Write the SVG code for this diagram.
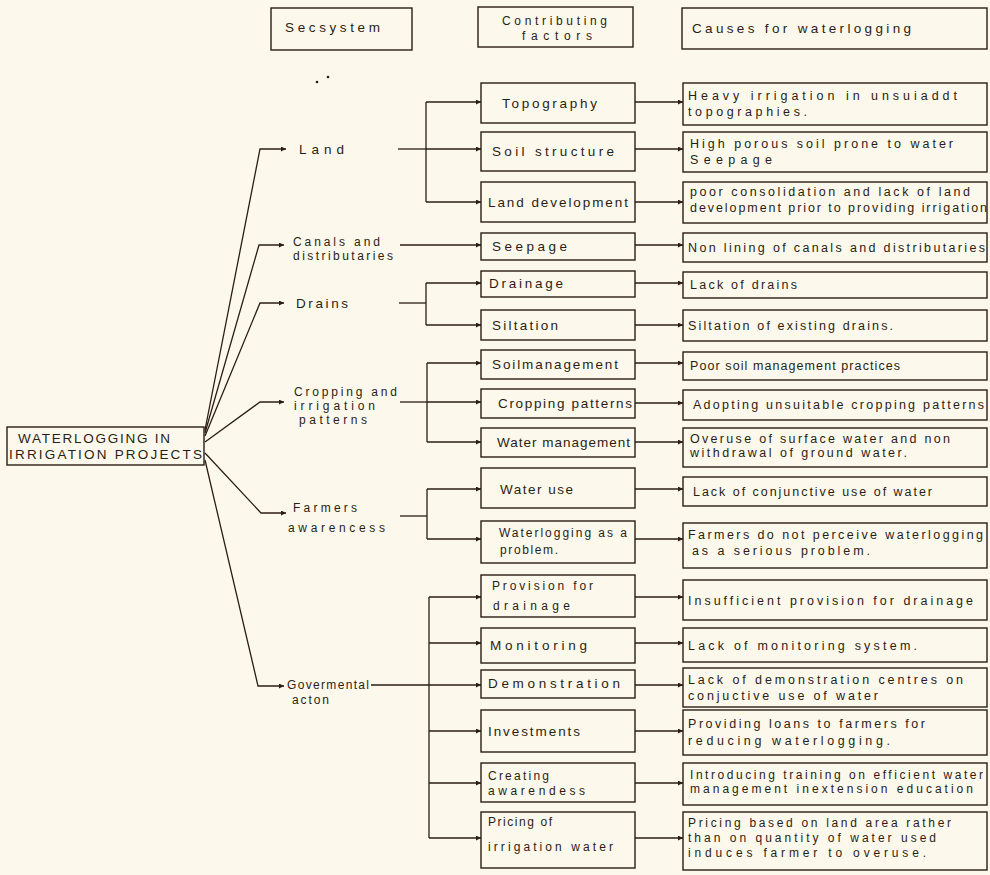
<svg xmlns="http://www.w3.org/2000/svg" width="990" height="875" viewBox="0 0 990 875">
<defs>
<marker id="ah" viewBox="0 0 10 10" refX="10" refY="5" markerWidth="8" markerHeight="5" markerUnits="userSpaceOnUse" orient="auto"><path d="M0,0 L10,5 L0,10 z" fill="#2b1d14"/></marker>
<style>
.bx{fill:none;stroke:#2b1d14;stroke-width:1.4}
.ln{fill:none;stroke:#2b1d14;stroke-width:1.3}
.ar{fill:none;stroke:#2b1d14;stroke-width:1.3;marker-end:url(#ah)}
text{font-family:"Liberation Sans",Arial,sans-serif;font-size:13.5px;fill:#2b1d14}
.rt{font-size:12.5px}
.sm{font-size:12px}
</style>
</defs>
<rect width="990" height="875" fill="#fcf9ec"/>

<g id="headers">
<g id="h-secsystem"><rect class="bx" x="271" y="8" width="141" height="42"/><text x="285" y="32" textLength="95" lengthAdjust="spacing">Secsystem</text></g>
<g id="h-factors"><rect class="bx" x="478" y="7" width="155" height="40"/><text class="sm" x="502" y="25" textLength="105" lengthAdjust="spacing">Contributing</text><text class="sm" x="522" y="40" textLength="70" lengthAdjust="spacing">factors</text></g>
<g id="h-causes"><rect class="bx" x="682" y="8" width="305" height="41"/><text x="692" y="33" textLength="219" lengthAdjust="spacing">Causes  for waterlogging</text></g>
</g>

<g id="marks"><circle cx="317" cy="82" r="1.3" fill="#2b1d14"/><circle cx="328" cy="77" r="1.3" fill="#2b1d14"/></g>

<g id="root"><rect class="bx" x="7" y="427" width="197" height="38"/><text x="18" y="443" font-size="12.5" textLength="152" lengthAdjust="spacing">WATERLOGGING IN</text><text x="9" y="459" font-size="12.5" textLength="193" lengthAdjust="spacing">IRRIGATION PROJECTS</text></g>

<g id="subsystems">
<g id="s-land"><text x="299" y="154" textLength="45" lengthAdjust="spacing">Land</text></g>
<g id="s-canals"><text class="sm" x="293" y="246" textLength="87" lengthAdjust="spacing">Canals and</text><text class="sm" x="293" y="260" textLength="100" lengthAdjust="spacing">distributaries</text></g>
<g id="s-drains"><text x="296" y="308" textLength="52" lengthAdjust="spacing">Drains</text></g>
<g id="s-cropping"><text class="sm" x="294" y="396" textLength="103" lengthAdjust="spacing">Cropping and</text><text class="sm" x="294" y="410" textLength="81" lengthAdjust="spacing">irrigation</text><text class="sm" x="299" y="424" textLength="68" lengthAdjust="spacing">patterns</text></g>
<g id="s-farmers"><text class="sm" x="293" y="512" textLength="64" lengthAdjust="spacing">Farmers</text><text class="sm" x="288" y="532" textLength="97" lengthAdjust="spacing">awarencess</text></g>
<g id="s-gov"><text class="sm" x="287" y="689" textLength="82" lengthAdjust="spacing">Govermental</text><text class="sm" x="292" y="704" textLength="37" lengthAdjust="spacing">acton</text></g>
</g>

<g id="factors">
<g id="f-topography"><rect class="bx" x="481" y="83" width="154" height="40"/><text x="502" y="108" textLength="95" lengthAdjust="spacing">Topography</text></g>
<g id="f-soil"><rect class="bx" x="481" y="132" width="154" height="39"/><text x="492" y="156" textLength="122" lengthAdjust="spacing">Soil structure</text></g>
<g id="f-landdev"><rect class="bx" x="481" y="182" width="154" height="40"/><text x="488" y="207" textLength="140" lengthAdjust="spacing">Land development</text></g>
<g id="f-seepage"><rect class="bx" x="481" y="233" width="154" height="27"/><text x="492" y="251" textLength="75" lengthAdjust="spacing">Seepage</text></g>
<g id="f-drainage"><rect class="bx" x="481" y="271" width="154" height="26"/><text x="489" y="288" textLength="74" lengthAdjust="spacing">Drainage</text></g>
<g id="f-siltation"><rect class="bx" x="481" y="310" width="154" height="30"/><text x="492" y="330" textLength="66" lengthAdjust="spacing">Siltation</text></g>
<g id="f-soilmgmt"><rect class="bx" x="481" y="350" width="154" height="29"/><text x="492" y="369" textLength="126" lengthAdjust="spacing">Soilmanagement</text></g>
<g id="f-cropping"><rect class="bx" x="481" y="389" width="154" height="29"/><text x="498" y="408" textLength="134" lengthAdjust="spacing">Cropping patterns</text></g>
<g id="f-watermgmt"><rect class="bx" x="481" y="428" width="154" height="29"/><text x="497" y="447" textLength="133" lengthAdjust="spacing">Water management</text></g>
<g id="f-wateruse"><rect class="bx" x="481" y="468" width="154" height="40"/><text x="500" y="494" textLength="73" lengthAdjust="spacing">Water use</text></g>
<g id="f-problem"><rect class="bx" x="481" y="521" width="154" height="42"/><text class="sm" x="499" y="537" textLength="128" lengthAdjust="spacing">Waterlogging as a</text><text class="sm" x="500" y="554" textLength="58" lengthAdjust="spacing">problem.</text></g>
<g id="f-provision"><rect class="bx" x="481" y="575" width="154" height="42"/><text class="sm" x="492" y="590" textLength="101" lengthAdjust="spacing">Provision for</text><text class="sm" x="493" y="610" textLength="77" lengthAdjust="spacing">drainage</text></g>
<g id="f-monitoring"><rect class="bx" x="481" y="628" width="154" height="35"/><text x="490" y="650" textLength="97" lengthAdjust="spacing">Monitoring</text></g>
<g id="f-demonstration"><rect class="bx" x="481" y="670" width="154" height="28"/><text x="488" y="688" textLength="132" lengthAdjust="spacing">Demonstration</text></g>
<g id="f-investments"><rect class="bx" x="481" y="710" width="154" height="42"/><text x="488" y="736" textLength="92" lengthAdjust="spacing">Investments</text></g>
<g id="f-creating"><rect class="bx" x="481" y="763" width="154" height="39"/><text class="sm" x="488" y="780" textLength="61" lengthAdjust="spacing">Creating</text><text class="sm" x="488" y="795" textLength="97" lengthAdjust="spacing">awarendess</text></g>
<g id="f-pricing"><rect class="bx" x="481" y="812" width="154" height="56"/><text class="sm" x="488" y="826" textLength="64" lengthAdjust="spacing">Pricing of</text><text class="sm" x="488" y="851" textLength="125" lengthAdjust="spacing">irrigation water</text></g>
</g>

<g id="causes">
<g id="c1"><rect class="bx" x="683" y="83" width="304" height="42"/><text class="rt" x="688" y="100" textLength="269" lengthAdjust="spacing">Heavy irrigation in unsuiaddt</text><text class="rt" x="688" y="116" textLength="119" lengthAdjust="spacing">topographies.</text></g>
<g id="c2"><rect class="bx" x="683" y="132" width="304" height="40"/><text class="rt" x="690" y="148" textLength="263" lengthAdjust="spacing">High porous soil prone to water</text><text class="rt" x="690" y="164" textLength="82" lengthAdjust="spacing">Seepage</text></g>
<g id="c3"><rect class="bx" x="683" y="182" width="304" height="41"/><text class="rt" x="690" y="196" textLength="280" lengthAdjust="spacing">poor consolidation and lack of land</text><text class="rt" x="690" y="212" textLength="297" lengthAdjust="spacing">development prior to providing irrigation</text></g>
<g id="c4"><rect class="bx" x="683" y="233" width="304" height="29"/><text class="rt" x="688" y="252" textLength="297" lengthAdjust="spacing">Non lining of canals and distributaries</text></g>
<g id="c5"><rect class="bx" x="683" y="272" width="304" height="26"/><text class="rt" x="690" y="289" textLength="107" lengthAdjust="spacing">Lack of drains</text></g>
<g id="c6"><rect class="bx" x="683" y="310" width="304" height="31"/><text class="rt" x="688" y="330" textLength="205" lengthAdjust="spacing">Siltation of existing drains.</text></g>
<g id="c7"><rect class="bx" x="683" y="352" width="304" height="28"/><text class="rt" x="690" y="370" textLength="210" lengthAdjust="spacing">Poor soil management practices</text></g>
<g id="c8"><rect class="bx" x="683" y="390" width="304" height="30"/><text class="rt" x="693" y="409" textLength="291" lengthAdjust="spacing">Adopting unsuitable cropping patterns</text></g>
<g id="c9"><rect class="bx" x="683" y="428" width="304" height="39"/><text class="rt" x="690" y="443" textLength="260" lengthAdjust="spacing">Overuse of surface water and non</text><text class="rt" x="690" y="457" textLength="217" lengthAdjust="spacing">withdrawal of ground water.</text></g>
<g id="c10"><rect class="bx" x="683" y="477" width="304" height="29"/><text class="rt" x="693" y="496" textLength="239" lengthAdjust="spacing">Lack of conjunctive use of water</text></g>
<g id="c11"><rect class="bx" x="683" y="523" width="304" height="45"/><text class="rt" x="688" y="539" textLength="295" lengthAdjust="spacing">Farmers do not perceive waterlogging</text><text class="rt" x="692" y="555" textLength="178" lengthAdjust="spacing">as a serious problem.</text></g>
<g id="c12"><rect class="bx" x="683" y="580" width="304" height="40"/><text class="rt" x="688" y="605" textLength="285" lengthAdjust="spacing">Insufficient provision for drainage</text></g>
<g id="c13"><rect class="bx" x="683" y="628" width="304" height="34"/><text class="rt" x="688" y="650" textLength="229" lengthAdjust="spacing">Lack of monitoring system.</text></g>
<g id="c14"><rect class="bx" x="683" y="668" width="304" height="39"/><text class="rt" x="688" y="684" textLength="275" lengthAdjust="spacing">Lack of demonstration centres on</text><text class="rt" x="688" y="700" textLength="190" lengthAdjust="spacing">conjuctive use of water</text></g>
<g id="c15"><rect class="bx" x="683" y="710" width="304" height="45"/><text class="rt" x="688" y="728" textLength="237" lengthAdjust="spacing">Providing loans to farmers for</text><text class="rt" x="688" y="745" textLength="202" lengthAdjust="spacing">reducing waterlogging.</text></g>
<g id="c16"><rect class="bx" x="683" y="763" width="304" height="42"/><text class="sm" x="690" y="779" textLength="293" lengthAdjust="spacing">Introducing training on efficient water</text><text class="sm" x="690" y="793" textLength="283" lengthAdjust="spacing">management inextension education</text></g>
<g id="c17"><rect class="bx" x="683" y="812" width="304" height="58"/><text class="sm" x="688" y="827" textLength="263" lengthAdjust="spacing">Pricing based on land area rather</text><text class="sm" x="688" y="842" textLength="248" lengthAdjust="spacing">than on quantity of water used</text><text class="sm" x="688" y="857" textLength="238" lengthAdjust="spacing">induces farmer to overuse.</text></g>
</g>

<g id="connectors">
<polyline class="ar" points="205,430 260,149 286,149"/>
<polyline class="ar" points="205,433 259,245 284,245"/>
<polyline class="ar" points="205,436 260,303 284,303"/>
<polyline class="ar" points="205,442 260,402 284,402"/>
<polyline class="ar" points="205,453 261,513 286,513"/>
<polyline class="ar" points="205,460 258,686 284,686"/>

<line class="ln" x1="398" y1="149" x2="426" y2="149"/>
<line class="ln" x1="426" y1="102" x2="426" y2="202"/>
<line class="ar" x1="426" y1="102" x2="481" y2="102"/>
<line class="ar" x1="426" y1="149" x2="481" y2="149"/>
<line class="ar" x1="426" y1="202" x2="481" y2="202"/>

<line class="ar" x1="400" y1="245" x2="481" y2="245"/>

<line class="ln" x1="399" y1="303" x2="426" y2="303"/>
<line class="ln" x1="426" y1="283" x2="426" y2="325"/>
<line class="ar" x1="426" y1="283" x2="481" y2="283"/>
<line class="ar" x1="426" y1="325" x2="481" y2="325"/>

<line class="ln" x1="400" y1="402" x2="427" y2="402"/>
<line class="ln" x1="427" y1="363" x2="427" y2="442"/>
<line class="ar" x1="427" y1="363" x2="481" y2="363"/>
<line class="ar" x1="427" y1="402" x2="481" y2="402"/>
<line class="ar" x1="427" y1="442" x2="481" y2="442"/>

<line class="ln" x1="400" y1="516" x2="427" y2="516"/>
<line class="ln" x1="427" y1="489" x2="427" y2="539"/>
<line class="ar" x1="427" y1="489" x2="481" y2="489"/>
<line class="ar" x1="427" y1="539" x2="481" y2="539"/>

<line class="ln" x1="371" y1="685" x2="429" y2="685"/>
<line class="ln" x1="429" y1="597" x2="429" y2="838"/>
<line class="ar" x1="429" y1="597" x2="481" y2="597"/>
<line class="ar" x1="429" y1="643" x2="481" y2="643"/>
<line class="ar" x1="429" y1="685" x2="481" y2="685"/>
<line class="ar" x1="429" y1="731" x2="481" y2="731"/>
<line class="ar" x1="429" y1="783" x2="481" y2="783"/>
<line class="ar" x1="429" y1="838" x2="481" y2="838"/>

<line class="ar" x1="635" y1="102" x2="683" y2="102"/>
<line class="ar" x1="635" y1="149" x2="683" y2="149"/>
<line class="ar" x1="635" y1="202" x2="683" y2="202"/>
<line class="ar" x1="635" y1="245" x2="683" y2="245"/>
<line class="ar" x1="635" y1="283" x2="683" y2="283"/>
<line class="ar" x1="635" y1="325" x2="683" y2="325"/>
<line class="ar" x1="635" y1="363" x2="683" y2="363"/>
<line class="ar" x1="635" y1="403" x2="683" y2="403"/>
<line class="ar" x1="635" y1="442" x2="683" y2="442"/>
<line class="ar" x1="635" y1="489" x2="683" y2="489"/>
<line class="ar" x1="635" y1="539" x2="683" y2="539"/>
<line class="ar" x1="635" y1="597" x2="683" y2="597"/>
<line class="ar" x1="635" y1="643" x2="683" y2="643"/>
<line class="ar" x1="635" y1="685" x2="683" y2="685"/>
<line class="ar" x1="635" y1="731" x2="683" y2="731"/>
<line class="ar" x1="635" y1="783" x2="683" y2="783"/>
<line class="ar" x1="635" y1="838" x2="683" y2="838"/>
</g>
</svg>
